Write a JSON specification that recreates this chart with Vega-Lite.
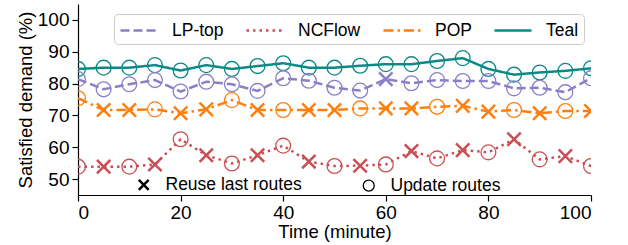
{
  "$schema": "https://vega.github.io/schema/vega-lite/v6.json",
  "width": 513,
  "height": 191,
  "autosize": {"type": "none"},
  "padding": {"left": 78, "top": 4, "right": 37, "bottom": 50},
  "config": {
    "view": {"stroke": null},
    "font": "Liberation Sans",
    "axis": {"grid": false, "domainColor": "black", "tickColor": "black", "labelColor": "black", "titleColor": "black", "labelFont": "Liberation Sans", "titleFont": "Liberation Sans", "labelFontSize": 19, "titleFontSize": 18.5, "titleFontWeight": "normal", "tickSize": 6, "domainWidth": 1.2, "tickWidth": 1.2},
    "legend": {"labelFont": "Liberation Sans", "labelFontSize": 17.5, "labelColor": "black"}
  },
  "data": {"values": [
    {"t":0,"s":"Teal","v":84.6,"m":"Update routes"},
    {"t":5,"s":"Teal","v":85.0,"m":"Update routes"},
    {"t":10,"s":"Teal","v":85.0,"m":"Update routes"},
    {"t":15,"s":"Teal","v":85.8,"m":"Update routes"},
    {"t":20,"s":"Teal","v":84.1,"m":"Update routes"},
    {"t":25,"s":"Teal","v":85.8,"m":"Update routes"},
    {"t":30,"s":"Teal","v":84.6,"m":"Update routes"},
    {"t":35,"s":"Teal","v":85.5,"m":"Update routes"},
    {"t":40,"s":"Teal","v":86.4,"m":"Update routes"},
    {"t":45,"s":"Teal","v":85.0,"m":"Update routes"},
    {"t":50,"s":"Teal","v":85.0,"m":"Update routes"},
    {"t":55,"s":"Teal","v":85.6,"m":"Update routes"},
    {"t":60,"s":"Teal","v":86.1,"m":"Update routes"},
    {"t":65,"s":"Teal","v":86.1,"m":"Update routes"},
    {"t":70,"s":"Teal","v":87.1,"m":"Update routes"},
    {"t":75,"s":"Teal","v":88.0,"m":"Update routes"},
    {"t":80,"s":"Teal","v":84.6,"m":"Update routes"},
    {"t":85,"s":"Teal","v":82.8,"m":"Update routes"},
    {"t":90,"s":"Teal","v":83.5,"m":"Update routes"},
    {"t":95,"s":"Teal","v":84.0,"m":"Update routes"},
    {"t":100,"s":"Teal","v":84.8,"m":"Update routes"},
    {"t":0,"s":"LP-top","v":81.4,"m":"Update routes"},
    {"t":5,"s":"LP-top","v":78.2,"m":"Update routes"},
    {"t":10,"s":"LP-top","v":79.8,"m":"Update routes"},
    {"t":15,"s":"LP-top","v":81.1,"m":"Update routes"},
    {"t":20,"s":"LP-top","v":77.5,"m":"Update routes"},
    {"t":25,"s":"LP-top","v":80.6,"m":"Update routes"},
    {"t":30,"s":"LP-top","v":79.8,"m":"Update routes"},
    {"t":35,"s":"LP-top","v":77.7,"m":"Update routes"},
    {"t":40,"s":"LP-top","v":81.7,"m":"Update routes"},
    {"t":45,"s":"LP-top","v":80.9,"m":"Update routes"},
    {"t":50,"s":"LP-top","v":78.7,"m":"Update routes"},
    {"t":55,"s":"LP-top","v":77.8,"m":"Update routes"},
    {"t":60,"s":"LP-top","v":81.4,"m":"Reuse last routes"},
    {"t":65,"s":"LP-top","v":80.1,"m":"Update routes"},
    {"t":70,"s":"LP-top","v":81.1,"m":"Update routes"},
    {"t":75,"s":"LP-top","v":80.8,"m":"Update routes"},
    {"t":80,"s":"LP-top","v":80.8,"m":"Update routes"},
    {"t":85,"s":"LP-top","v":78.5,"m":"Update routes"},
    {"t":90,"s":"LP-top","v":78.7,"m":"Update routes"},
    {"t":95,"s":"LP-top","v":77.3,"m":"Update routes"},
    {"t":100,"s":"LP-top","v":81.7,"m":"Update routes"},
    {"t":0,"s":"POP","v":75.4,"m":"Update routes"},
    {"t":5,"s":"POP","v":71.7,"m":"Reuse last routes"},
    {"t":10,"s":"POP","v":71.7,"m":"Reuse last routes"},
    {"t":15,"s":"POP","v":71.9,"m":"Update routes"},
    {"t":20,"s":"POP","v":70.7,"m":"Reuse last routes"},
    {"t":25,"s":"POP","v":71.9,"m":"Reuse last routes"},
    {"t":30,"s":"POP","v":74.8,"m":"Update routes"},
    {"t":35,"s":"POP","v":71.7,"m":"Reuse last routes"},
    {"t":40,"s":"POP","v":71.7,"m":"Update routes"},
    {"t":45,"s":"POP","v":71.7,"m":"Reuse last routes"},
    {"t":50,"s":"POP","v":71.7,"m":"Reuse last routes"},
    {"t":55,"s":"POP","v":72.2,"m":"Update routes"},
    {"t":60,"s":"POP","v":72.2,"m":"Reuse last routes"},
    {"t":65,"s":"POP","v":72.2,"m":"Reuse last routes"},
    {"t":70,"s":"POP","v":72.7,"m":"Update routes"},
    {"t":75,"s":"POP","v":73.0,"m":"Reuse last routes"},
    {"t":80,"s":"POP","v":71.2,"m":"Reuse last routes"},
    {"t":85,"s":"POP","v":71.7,"m":"Update routes"},
    {"t":90,"s":"POP","v":70.7,"m":"Reuse last routes"},
    {"t":95,"s":"POP","v":71.4,"m":"Update routes"},
    {"t":100,"s":"POP","v":71.4,"m":"Reuse last routes"},
    {"t":0,"s":"NCFlow","v":53.9,"m":"Update routes"},
    {"t":5,"s":"NCFlow","v":53.9,"m":"Reuse last routes"},
    {"t":10,"s":"NCFlow","v":53.9,"m":"Update routes"},
    {"t":15,"s":"NCFlow","v":54.6,"m":"Reuse last routes"},
    {"t":20,"s":"NCFlow","v":62.5,"m":"Update routes"},
    {"t":25,"s":"NCFlow","v":57.5,"m":"Reuse last routes"},
    {"t":30,"s":"NCFlow","v":54.9,"m":"Update routes"},
    {"t":35,"s":"NCFlow","v":57.5,"m":"Reuse last routes"},
    {"t":40,"s":"NCFlow","v":60.5,"m":"Update routes"},
    {"t":45,"s":"NCFlow","v":55.5,"m":"Reuse last routes"},
    {"t":50,"s":"NCFlow","v":54.1,"m":"Update routes"},
    {"t":55,"s":"NCFlow","v":54.2,"m":"Reuse last routes"},
    {"t":60,"s":"NCFlow","v":54.6,"m":"Update routes"},
    {"t":65,"s":"NCFlow","v":58.8,"m":"Reuse last routes"},
    {"t":70,"s":"NCFlow","v":56.5,"m":"Update routes"},
    {"t":75,"s":"NCFlow","v":59.1,"m":"Reuse last routes"},
    {"t":80,"s":"NCFlow","v":58.4,"m":"Update routes"},
    {"t":85,"s":"NCFlow","v":62.5,"m":"Reuse last routes"},
    {"t":90,"s":"NCFlow","v":56.2,"m":"Update routes"},
    {"t":95,"s":"NCFlow","v":57.2,"m":"Reuse last routes"},
    {"t":100,"s":"NCFlow","v":54.1,"m":"Update routes"}
  ]},
  "encoding": {
    "x": {"field": "t", "type": "quantitative", "title": "Time (minute)", "scale": {"domain": [0, 100], "nice": false}, "axis": {"values": [0, 20, 40, 60, 80, 100], "labelPadding": 2, "titlePadding": 0}},
    "y": {"field": "v", "type": "quantitative", "title": "Satisfied demand (%)", "scale": {"domain": [45, 105], "nice": false, "zero": false}, "axis": {"values": [50, 60, 70, 80, 90, 100], "labelPadding": 3, "titlePadding": 2}}
  },
  "layer": [
    {
      "mark": {"type": "line", "strokeWidth": 2.5, "clip": true},
      "encoding": {
        "color": {"field": "s", "type": "nominal", "scale": {"domain": ["LP-top", "NCFlow", "POP", "Teal"], "range": ["#8c7fc8", "#c94f55", "#ff7f0e", "#0a8a84"]},
          "legend": {"title": null, "orient": "none", "legendX": 36, "legendY": 10, "direction": "horizontal", "symbolType": "M-1,0L2.7,0", "symbolSize": 400, "symbolStrokeWidth": 2.5, "labelOffset": 30, "columnPadding": 17, "padding": 5, "strokeColor": "#cccccc", "fillColor": "white", "cornerRadius": 4}},
        "strokeDash": {"field": "s", "type": "nominal", "scale": {"domain": ["LP-top", "NCFlow", "POP", "Teal"], "range": [[9, 4], [2.5, 4], [10, 4, 2.5, 4], [1, 0]]},
          "legend": {"title": null, "orient": "none", "legendX": 36, "legendY": 10, "direction": "horizontal", "symbolType": "M-1,0L2.7,0", "symbolSize": 400, "symbolStrokeWidth": 2.5, "labelOffset": 30, "columnPadding": 17, "padding": 5, "strokeColor": "#cccccc", "fillColor": "white", "cornerRadius": 4}}
      }
    },
    {
      "mark": {"type": "point", "filled": false, "size": 220, "clip": true, "opacity": 1},
      "encoding": {
        "color": {"field": "s", "type": "nominal"},
        "shape": {"field": "m", "type": "nominal", "scale": {"domain": ["Reuse last routes", "Update routes"], "range": ["M-0.9,-0.9L0.9,0.9M-0.9,0.9L0.9,-0.9", "circle"]},
          "legend": {"title": null, "orient": "none", "legendX": 57, "legendY": 172, "direction": "horizontal", "symbolSize": 120, "symbolStrokeColor": "black", "symbolFillColor": "transparent", "symbolStrokeWidth": 2, "labelOffset": 13, "columnPadding": 58, "padding": 0}},
        "strokeWidth": {"field": "m", "type": "nominal", "scale": {"domain": ["Reuse last routes", "Update routes"], "range": [2.5, 1.3]}, "legend": null}
      }
    }
  ]
}
